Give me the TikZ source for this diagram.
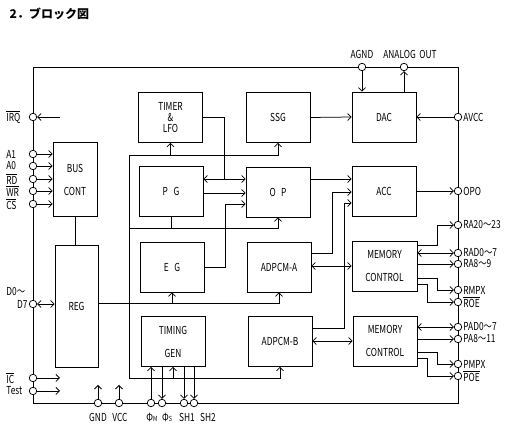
\documentclass[tikz,border=0pt]{standalone}
\usepackage{fontspec}
\newfontfamily\lbl{Noto Sans CJK JP}[FakeStretch=0.76]
\newfontfamily\ttlfont{Noto Sans CJK JP}
\usetikzlibrary{arrows,arrows.meta,positioning}
\newcommand{\ovl}[1]{$\overline{\hbox{#1}}$}

\begin{document}
\begin{tikzpicture}[
	x=1pt, y=-1pt,
	line width=0.75pt,
	>={Straight Barb[length=3.5pt,width=7pt]},
	every node/.style={font=\lbl\fontsize{11}{13}\selectfont},
	blk/.style={
		draw,
		minimum width=64pt,
		minimum height=50pt,
		align=center,
		inner sep=1pt
		},
	pin/.style={
		circle,
		draw,
		fill=white,
		inner sep=0pt,
		minimum size=7.5pt
		},
	txt/.style={
		inner sep=1pt
	}
]
\useasboundingbox (0,0) rectangle (512,430);

% Title
\node[anchor=west, font=\ttlfont\bfseries\fontsize{12}{14}\selectfont] (title) at (6,14) {2．ブロック図};

% Chip outline
\node[draw, minimum width=425pt, minimum height=336pt, inner sep=0pt, anchor=north west] (chip) at (33,67) {};

% Blocks
\node[blk, minimum height=74pt, minimum width=44pt] (bus) at (75,179.5) {BUS\\[10pt]CONT};
\node[blk, minimum height=122pt, minimum width=43pt] (reg) at (76.5,306) {REG};
\node[blk] (tmr) at (170.5,117.5) {TIMER\\[-2pt]\&\\[-2pt]LFO};
\node[blk] (ssg) at (278,117.5) {SSG};
\node[blk] (pg) at (171,191) {P\enspace G};
\node[blk] (op) at (278,192) {O\enspace P};
\node[blk] (eg) at (172,267) {E\enspace G};
\node[blk] (ada) at (279,267) {ADPCM-A};
\node[blk] (tim) at (173,341.5) {TIMING\\[10pt]GEN};
\node[blk] (adb) at (280,341.5) {ADPCM-B};
\node[blk] (dac) at (384,117) {DAC};
\node[blk] (acc) at (384,191.5) {ACC};
\node[blk, minimum width=65pt] (mc1) at (384.5,266) {MEMORY\\[10pt]CONTROL};
\node[blk] (mc2) at (385,341) {MEMORY\\[10pt]CONTROL};

% Pins, left side
\foreach \n/\y in {irq/117, a1/154, a0/166, rd/179, wr/191, cs/204, d07/304, ic/378, tst/391}
	\node[pin] (\n) at (33,\y) {};
\node[txt, anchor=west] (irq-t) at (5,117) {\ovl{IRQ}};
\node[txt, anchor=west] (a1-t) at (5,154) {A1};
\node[txt, anchor=west] (a0-t) at (5,166) {A0};
\node[txt, anchor=west] (rd-t) at (5,179) {\ovl{RD}};
\node[txt, anchor=west] (wr-t) at (5,191) {\ovl{WR}};
\node[txt, anchor=west] (cs-t) at (5,204) {\ovl{CS}};
\node[txt, anchor=west] (d0-t) at (5,292) {D0～};
\node[txt, anchor=east] (d7-t) at (29,304) {D7};
\node[txt, anchor=west] (ic-t) at (5,378) {\ovl{IC}};
\node[txt, anchor=west] (tst-t) at (5,391) {Test};

% Pins, bottom
\foreach \n/\x in {gnd/98, vcc/119, pm/151, ps/162, sh1/184, sh2/194}
	\node[pin] (\n) at (\x,403) {};
\node[txt] (gnd-t) at (98,417) {GND};
\node[txt] (vcc-t) at (120,417) {VCC};
\node[txt] (pm-t) at (152,417) {Φ{\fontsize{7}{8}\selectfont M}};
\node[txt] (ps-t) at (167,417) {Φ{\fontsize{7}{8}\selectfont S}};
\node[txt] (sh1-t) at (187,417) {SH1};
\node[txt] (sh2-t) at (208,417) {SH2};

% Pins, top
\node[pin] (agnd) at (362,67) {};
\node[pin] (aout) at (404,67) {};
\node[txt] (agnd-t) at (362,54) {AGND};
\node[txt] (aout-t) at (410,54) {ANALOG\, OUT};

% Pins, right side
\foreach \n/\y/\t in {avcc/117/AVCC, opo/191/OPO, ra20/225/RA20～23, rad/253/RAD0～7,
	ra8/264/RA8～9, rmpx/290/RMPX, roe/302/{\ovl{ROE}}, pad/327/PAD0～7,
	pa8/339/PA8～11, pmpx/364/PMPX, poe/376/{\ovl{POE}}}
{
	\node[pin] (\n) at (458,\y) {};
	\node[txt, anchor=west] (\n-t) at (462,\y) {\t};
}

% Host interface
\coordinate (irq-in) at (60,117);
\draw[->] (irq-in) -- (irq);
\foreach \n in {a1, a0, rd, wr, cs}
	\draw[->] (\n) -- (\n -| bus.west);
\draw[<->] (d07) -- (d07 -| reg.west);
\draw[->] (ic) -- ++(27,0);
\draw[->] (tst) -- ++(27,0);
\draw (bus.south) -- (bus.south |- reg.north);

% Power pins
\draw[->] (gnd) -- ++(0,-18);
\draw[->] (vcc) -- ++(0,-18);

% Timing
\draw[->] (pm) -- (pm |- tim.south);
\draw[->] (ps |- tim.south) -- (ps);
\draw[->] (sh1 |- tim.south) -- (sh1);
\draw[->] (sh2 |- tim.south) -- (sh2);

% Internal bus
\coordinate (bt) at (129,155);
\coordinate (bm) at (129,228);
\coordinate (bb) at (129,378);
\draw (bt) -- (bb);
\draw[->] (bt) -| (tmr.south);
\draw[->] (bt) -| (ssg.south);
\draw[->] (bm) -| (op.south);
\draw (pg.south) -- (pg.south |- bm);
\draw[->] (bb) -| (adb.south);
\draw[->] (tim.south |- bb) -- (tim.south);

% Register bus
\coordinate (rb) at (98,303);
\draw[->] (reg.east |- rb) -| (ada.south);
\draw[->] (eg.south |- rb) -- (eg.south);

% Operators
\coordinate (tj) at (224,179);
\draw[<->] (pg.east |- tj) -- (op.west |- tj);
\draw (tmr.east) -| (tj);
\draw[->] (pg.east |- 0,193) -- (op.west |- 0,193);
\draw[->] (eg.east) -- (225,267) |- (op.west |- 0,204);

% Outputs
\draw[->] (ssg.east) -- (dac.west);
\draw[->] (avcc) -- (dac.east);
\draw[->] (agnd) -- (agnd |- dac.north);
\draw[->] (aout |- dac.north) -- (aout);
\draw[->] (op.east |- 0,179) -- (acc.west |- 0,179);
\draw[->] (ada.east |- 0,253) -- (332,253) |- (acc.west |- 0,192);
\draw[->] (adb.east |- 0,328) -- (344,328) |- (acc.west |- 0,203);
\draw[->] (acc.east |- opo) -- (opo);

% Memory control
\draw[<->] (ada.east |- 0,266) -- (mc1.west |- 0,266);
\draw[<->] (adb.east |- 0,341) -- (mc2.west |- 0,341);
\draw[->] (mc1.east |- 0,245) -- (437,245) |- (ra20);
\draw[<->] (mc1.east |- rad) -- (rad);
\draw[->] (mc1.east |- ra8) -- (ra8);
\draw[->] (mc1.east |- 0,278) -- (437,278) |- (rmpx);
\draw[->] (mc1.east |- 0,284) -- (427,284) |- (roe);
\draw[<->] (mc2.east |- pad) -- (pad);
\draw[->] (mc2.east |- pa8) -- (pa8);
\draw[->] (mc2.east |- 0,352) -- (437,352) |- (pmpx);
\draw[->] (mc2.east |- 0,358) -- (427,358) |- (poe);

\end{tikzpicture}
\end{document}
